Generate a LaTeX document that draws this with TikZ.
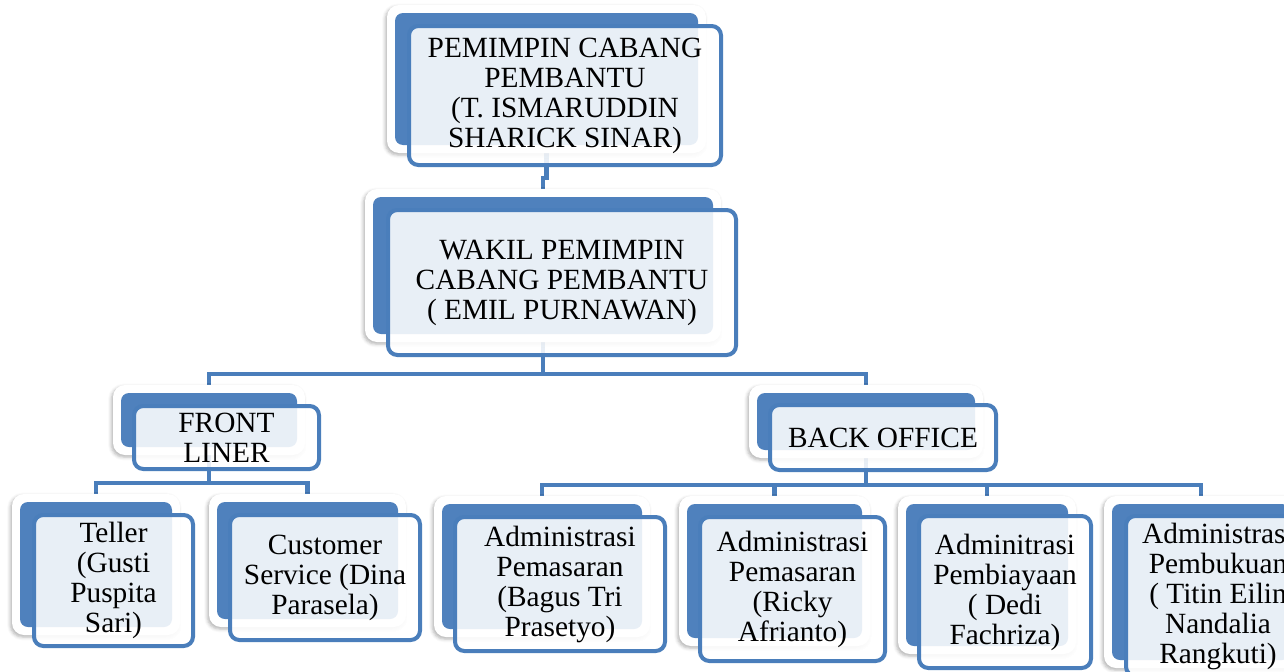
\documentclass[tikz,border=0pt]{standalone}
\usepackage{fontspec}
\setmainfont{Liberation Serif}
\usetikzlibrary{fit,calc,shadows.blur}
\definecolor{sablue}{HTML}{4F81BD}
\definecolor{saline}{HTML}{4A7EBB}
\pgfdeclarelayer{bg}
\pgfsetlayers{bg,main}
\tikzset{
 halo/.style={fill=white, rounded corners=9pt, blur shadow={shadow xshift=-1.2pt, shadow yshift=-1.5pt, shadow blur radius=2.5pt, shadow opacity=30}},
 backbox/.style={fill=sablue, rounded corners=6pt, inner sep=0pt, outer sep=0pt},
 frontbox/.style={draw=saline, line width=3pt, fill=white, fill opacity=0.875, draw opacity=1, text opacity=1, rounded corners=7pt, inner sep=0pt, outer sep=0pt, anchor=center, align=center, font=\fontsize{22}{22.5}\selectfont},
 conn/.style={draw=saline, line width=3.2pt},
}
% #1 name, #2 back NW, #3 back SE, #4-#7 front x1,y1,x2,y2, #8 text
\newcommand\orgunit[8]{%
  \path[halo] ($(#2)+(-8,-8)$) rectangle ($(#3)+(8,8)$);
  \node[backbox, fit={(#2)(#3)}] (b#1) {};
  \node[frontbox, minimum width={(#6-#4)*0.75pt}, minimum height={(#7-#5)*0.75pt}] (f#1) at ({(#4+#6)/2},{(#5+#7)/2}) {#8};
}
\begin{document}
\begin{tikzpicture}[x=0.75pt, y=-0.75pt]
\useasboundingbox (0,0) rectangle (1284,671);
\clip (0,0) rectangle (1284,671);
\orgunit{1}{395,13}{698,145}{409}{26}{721}{165}{PEMIMPIN CABANG\\PEMBANTU\\(T. ISMARUDDIN\\SHARICK SINAR)}
\orgunit{2}{373,197}{713,334}{388}{210}{736}{355}{WAKIL PEMIMPIN\\CABANG PEMBANTU\\( EMIL PURNAWAN)}
\orgunit{3}{121,393}{297,447}{134}{406}{319}{469}{FRONT\\LINER}
\orgunit{4}{757,393}{975,450}{770}{405}{996}{470}{BACK OFFICE}
\orgunit{5}{20,502}{172,627}{34}{515}{193}{646}{Teller\\(Gusti\\Puspita\\Sari)}
\orgunit{6}{217,502}{398,619}{230}{515}{420}{640}{Customer\\Service (Dina\\Parasela)}
\orgunit{7}{442,504}{642,629}{455}{517}{665}{651}{Administrasi\\Pemasaran\\(Bagus Tri\\Prasetyo)}
\orgunit{8}{687,504}{862,638}{700}{517}{885}{661}{Administrasi\\Pemasaran\\(Ricky\\Afrianto)}
\orgunit{9}{906,504}{1068,646}{919}{516}{1091}{668}{Adminitrasi\\Pembiayaan\\( Dedi\\Fachriza)}
\orgunit{10}{1112,504}{1290,660}{1126}{516}{1310}{676}{Administrasi\\Pembukuan\\( Titin Eilin\\Nandalia\\Rangkuti)}
\begin{pgfonlayer}{bg}
\draw[conn] (b1.south) -- ++(0,33) -| (b2.north);
\draw[conn] (b2.south) -- ++(0,40) -| (b3.north);
\draw[conn] (b2.south) -- ++(0,40) -| (b4.north);
\draw[conn] (b3.south) -- ++(0,36) -| (b5.north);
\draw[conn] (b3.south) -- ++(0,36) -| (b6.north);
\draw[conn] (b4.south) -- ++(0,35) -| (b7.north);
\draw[conn] (b4.south) -- ++(0,35) -| (b8.north);
\draw[conn] (b4.south) -- ++(0,35) -| (b9.north);
\draw[conn] (b4.south) -- ++(0,35) -| (b10.north);
\end{pgfonlayer}
\end{tikzpicture}
\end{document}
